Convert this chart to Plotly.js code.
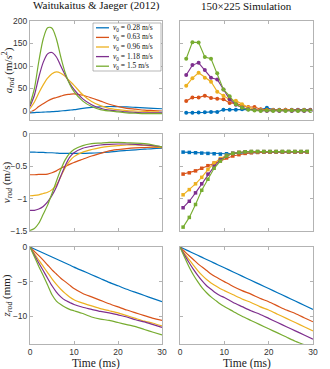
<!DOCTYPE html>
<html>
<head>
<meta charset="utf-8">
<script src="https://cdn.plot.ly/plotly-3.0.1.min.js"></script>
<style>
  html, body { margin: 0; padding: 0; background: #fff; }
  #chart { width: 330px; height: 369px; }
</style>
</head>
<body>
<div id="chart"></div>
<script>
// Series labels and colours (MATLAB default order)
const speedLabels = ["0.28", "0.63", "0.96", "1.18", "1.5"];
const lineColors = ["#0072BD", "#D95319", "#EDB120", "#7E2F8E", "#77AC30"];

// Experiment time grid (ms)
const tExp = [0, 1, 2, 3, 4, 5, 6, 7, 8, 9, 10, 12, 14, 16, 18, 20, 22, 24, 26, 28, 30];

// Experiment acceleration (m/s^2)
const accExp = [
  [-4, -3.5, -3, -2.5, -2, -1.5, -1, 0, 1, 2, 3, 6, 8, 9.5, 10, 9.5, 9, 8, 7, 6, 5],
  [-3, 2, 10, 16, 22, 27, 30, 33, 36, 37, 38, 35, 29, 22, 15, 10, 6, 4, 2, 1, 0],
  [5, 20, 40, 58, 73, 83, 87, 84, 77, 67, 57, 36, 21, 12, 6, 3, 1, 0, -1, -2, -2],
  [10, 35, 75, 108, 127, 130, 120, 100, 80, 62, 48, 27, 14, 6, 2, 0, -2, -3, -4, -4, -4],
  [15, 50, 110, 160, 185, 184, 160, 120, 85, 60, 43, 22, 10, 3, 0, -2, -4, -5, -6, -6, -6]
];

// Experiment velocity (m/s)
const velExp = [
  [-0.28, -0.28, -0.285, -0.285, -0.29, -0.29, -0.295, -0.3, -0.3, -0.3, -0.3, -0.3, -0.295, -0.29, -0.28, -0.265, -0.255, -0.245, -0.235, -0.225, -0.22],
  [-0.63, -0.63, -0.625, -0.625, -0.62, -0.6, -0.57, -0.53, -0.5, -0.47, -0.44, -0.39, -0.34, -0.3, -0.26, -0.24, -0.225, -0.215, -0.21, -0.205, -0.21],
  [-0.955, -0.95, -0.94, -0.92, -0.9, -0.86, -0.79, -0.66, -0.52, -0.42, -0.35, -0.28, -0.24, -0.21, -0.19, -0.18, -0.17, -0.17, -0.175, -0.19, -0.21],
  [-1.18, -1.18, -1.16, -1.12, -1.05, -0.95, -0.82, -0.65, -0.49, -0.36, -0.29, -0.22, -0.19, -0.17, -0.16, -0.155, -0.155, -0.16, -0.17, -0.18, -0.2],
  [-1.49, -1.46, -1.38, -1.24, -1.1, -0.92, -0.73, -0.55, -0.4, -0.3, -0.24, -0.18, -0.15, -0.14, -0.13, -0.13, -0.135, -0.14, -0.15, -0.17, -0.2]
];

// Experiment displacement (mm)
const posExp = [
  [0, -0.29, -0.58, -0.87, -1.16, -1.45, -1.74, -2.03, -2.32, -2.6, -2.9, -3.45, -4.0, -4.55, -5.1, -5.6, -6.1, -6.55, -7.0, -7.45, -7.9],
  [0, -0.63, -1.25, -1.9, -2.6, -3.3, -3.9, -4.5, -5.0, -5.5, -6.0, -6.7, -7.2, -7.7, -8.2, -8.65, -9.1, -9.5, -9.9, -10.3, -10.6],
  [0, -0.95, -1.9, -2.8, -3.7, -4.6, -5.4, -6.1, -6.7, -7.2, -7.6, -8.1, -8.5, -8.9, -9.2, -9.5, -9.9, -10.3, -10.7, -11.0, -11.4],
  [0, -1.15, -2.3, -3.4, -4.5, -5.6, -6.5, -7.2, -7.7, -8.0, -8.3, -8.7, -9.0, -9.3, -9.5, -9.8, -10.1, -10.5, -10.8, -11.2, -11.6],
  [0, -1.4, -2.8, -4.1, -5.5, -6.9, -7.8, -8.3, -8.7, -9.0, -9.2, -9.6, -10.1, -10.4, -10.6, -10.9, -11.2, -11.5, -11.9, -12.3, -12.7]
];

// Simulation sample times (ms)
const tSimAcc = [1.4, 2.8, 4.2, 5.6, 7.0, 8.4, 9.8, 11.2, 12.6, 14.0, 15.4, 16.8, 18.2, 19.6, 21.0, 22.4, 23.8, 25.2, 26.6, 28.0, 29.4];
const tSimVel = [0.7, 2.1, 3.5, 4.9, 6.3, 7.7, 9.1, 10.5, 11.9, 13.3, 14.7, 16.1, 17.5, 18.9, 20.3, 21.7, 23.1, 24.5, 25.9, 27.3, 28.7];

// Simulation acceleration (m/s^2)
const accSim = [
  [-4, -4, -3.5, -3, -2, -2, 3, 3, 3, 4, 4, 4, 3, 7, 3, 3, 3, 3, 3, 3, 3],
  [22, 30, 30, 34, 29, 27, 26, 18, 17, 12, 9, 9, 4, 3, 2, 2, 3, 2, 2, 2, 2],
  [56, 73, 85, 74, 65, 43, 34, 25, 23, 15, 8, 4, 2, 1, 2, 1, 2, 1, 1, 1, 1],
  [80, 102, 107, 91, 74, 70, 48, 26, 14, 8, 4, 2, 1, 0, 1, 0, 1, 0, 1, 0, 1],
  [116, 153, 152, 120, 116, 84, 48, 33, 15, 7, 3, 1, 0, 1, 0, 1, 0, 1, 0, 1, 0]
];

// Simulation velocity (m/s)
const velSim = [
  [-0.28, -0.285, -0.29, -0.295, -0.3, -0.305, -0.31, -0.305, -0.3, -0.295, -0.29, -0.285, -0.283, -0.28, -0.28, -0.28, -0.28, -0.28, -0.278, -0.278, -0.278],
  [-0.62, -0.6, -0.57, -0.53, -0.49, -0.45, -0.41, -0.37, -0.34, -0.32, -0.3, -0.29, -0.285, -0.28, -0.28, -0.278, -0.278, -0.278, -0.278, -0.278, -0.278],
  [-0.94, -0.86, -0.77, -0.67, -0.55, -0.45, -0.38, -0.33, -0.3, -0.285, -0.278, -0.275, -0.275, -0.275, -0.275, -0.275, -0.275, -0.275, -0.275, -0.275, -0.275],
  [-1.14, -1.04, -0.91, -0.77, -0.62, -0.5, -0.4, -0.34, -0.3, -0.285, -0.275, -0.272, -0.272, -0.272, -0.272, -0.272, -0.272, -0.272, -0.272, -0.272, -0.272],
  [-1.44, -1.29, -1.09, -0.87, -0.7, -0.53, -0.42, -0.34, -0.3, -0.285, -0.275, -0.27, -0.27, -0.27, -0.27, -0.27, -0.27, -0.27, -0.27, -0.27, -0.27]
];

// Simulation displacement (mm), on the experiment time grid
const posSim = [
  [0, -0.3, -0.6, -0.9, -1.2, -1.5, -1.8, -2.1, -2.4, -2.7, -3.0, -3.6, -4.2, -4.8, -5.4, -6.0, -6.6, -7.2, -7.8, -8.4, -9.0],
  [0, -0.62, -1.23, -1.8, -2.4, -2.9, -3.4, -3.9, -4.3, -4.65, -5.0, -5.7, -6.3, -6.8, -7.4, -7.9, -8.5, -9.1, -9.6, -10.2, -10.8],
  [0, -0.93, -1.8, -2.6, -3.4, -4.1, -4.7, -5.2, -5.6, -6.0, -6.3, -6.9, -7.5, -8.0, -8.6, -9.1, -9.7, -10.3, -10.9, -11.5, -12.1],
  [0, -1.13, -2.2, -3.2, -4.1, -4.9, -5.6, -6.1, -6.6, -7.0, -7.3, -8.0, -8.6, -9.2, -9.7, -10.3, -10.9, -11.5, -12.1, -12.7, -13.3],
  [0, -1.45, -2.8, -4.0, -5.0, -5.9, -6.6, -7.2, -7.7, -8.2, -8.6, -9.3, -10.0, -10.6, -11.2, -11.8, -12.4, -13.0, -13.6, -14.1, -14.7]
];

// Tick values per row
const accTicks = [0, 50, 100, 150, 200];
const velTicks = [0, -0.5, -1, -1.5];
const posTicks = [0, -5, -10];
const timeTicks = [0, 10, 20, 30];

const serif = "Liberation Serif, DejaVu Serif, serif";
const sans = "Liberation Sans, Arial, sans-serif";
const frameColor = "#b3b3b3";

// pixel -> paper helpers (page is 330 x 369)
const W = 330, H = 369;
const px = v => v / W;
const py = v => 1 - v / H;

// Build traces for all six panels
const traces = [];
for (let i = 0; i < speedLabels.length; i++) {
  const color = lineColors[i];
  traces.push({
    x: tExp, y: accExp[i], xaxis: "x", yaxis: "y", mode: "lines",
    line: { color: color, width: 1.2, shape: "spline", smoothing: 0.8 }
  });
  traces.push({
    x: tSimAcc, y: accSim[i], xaxis: "x2", yaxis: "y2", mode: "lines+markers",
    line: { color: color, width: 1.1 },
    marker: { symbol: "circle", size: 4, color: color }
  });
  traces.push({
    x: tExp, y: velExp[i], xaxis: "x3", yaxis: "y3", mode: "lines",
    line: { color: color, width: 1.2, shape: "spline", smoothing: 0.8 }
  });
  traces.push({
    x: tSimVel, y: velSim[i], xaxis: "x4", yaxis: "y4", mode: "lines+markers",
    line: { color: color, width: 1.1 },
    marker: { symbol: "square", size: 3.5, color: color }
  });
  traces.push({
    x: tExp, y: posExp[i], xaxis: "x5", yaxis: "y5", mode: "lines",
    line: { color: color, width: 1.2, shape: "spline", smoothing: 0.6 }
  });
  traces.push({
    x: tExp, y: posSim[i], xaxis: "x6", yaxis: "y6", mode: "lines",
    line: { color: color, width: 1.2, shape: "spline", smoothing: 0.6 }
  });
}

// Shared axis styling
function xAxis(domain, anchor, showLabels) {
  return {
    domain: domain, anchor: anchor, range: [0, 30],
    tickvals: timeTicks, ticks: "inside", ticklen: 3, tickcolor: frameColor,
    showticklabels: showLabels, showgrid: false, zeroline: false,
    showline: true, mirror: "ticks", linecolor: frameColor, linewidth: 1,
    tickfont: { family: sans, size: 8.5, color: "#333" }
  };
}

function yAxis(domain, anchor, range, ticks, titleText) {
  const ax = {
    domain: domain, anchor: anchor, range: range,
    tickvals: ticks, ticks: "inside", ticklen: 3, tickcolor: frameColor,
    showticklabels: !!titleText, showgrid: false, zeroline: false,
    showline: true, mirror: "ticks", linecolor: frameColor, linewidth: 1,
    tickfont: { family: sans, size: 8.5, color: "#333" }
  };
  if (titleText) {
    ax.title = { text: titleText, font: { family: serif, size: 11, color: "#222" }, standoff: 3 };
  }
  return ax;
}

const leftX = [px(30), px(162)];
const rightX = [px(180), px(313)];
const topY = [py(120), py(21)];
const midY = [py(231), py(134)];
const botY = [py(344), py(247)];

// Hand-built legend box inside the top-left panel
const legendBox = { x0: 93, x1: 161, y0: 23, y1: 71 };
const legendRow = (legendBox.y1 - legendBox.y0) / speedLabels.length;
const shapes = [{
  type: "rect", xref: "paper", yref: "paper",
  x0: px(legendBox.x0), x1: px(legendBox.x1), y0: py(legendBox.y1), y1: py(legendBox.y0),
  fillcolor: "#fff", line: { color: "#999", width: 0.7 }, layer: "above"
}];
const annotations = [];
for (let i = 0; i < speedLabels.length; i++) {
  const rowY = legendBox.y0 + legendRow * (i + 0.5);
  shapes.push({
    type: "line", xref: "paper", yref: "paper", layer: "above",
    x0: px(legendBox.x0 + 3), x1: px(legendBox.x0 + 16), y0: py(rowY), y1: py(rowY),
    line: { color: lineColors[i], width: 1.3 }
  });
  annotations.push({
    text: "<i>v</i><sub>0</sub> = " + speedLabels[i] + " m/s",
    xref: "paper", yref: "paper", x: px(legendBox.x0 + 18), y: py(rowY),
    xanchor: "left", yanchor: "middle", showarrow: false,
    font: { family: serif, size: 7.5, color: "#111" }
  });
}

// Panel titles and shared x titles
annotations.push({
  text: "Waitukaitus &amp; Jaeger (2012)", xref: "paper", yref: "paper",
  x: px(96), y: py(6), xanchor: "center", yanchor: "middle",
  showarrow: false, font: { family: serif, size: 11, color: "#111" }
});
annotations.push({
  text: "150×225 Simulation", xref: "paper", yref: "paper",
  x: px(246), y: py(6), xanchor: "center", yanchor: "middle",
  showarrow: false, font: { family: serif, size: 11, color: "#111" }
});
[leftX, rightX].forEach(dom => {
  annotations.push({
    text: "Time (ms)", xref: "paper", yref: "paper",
    x: (dom[0] + dom[1]) / 2, y: py(363.5), xanchor: "center", yanchor: "middle",
    showarrow: false, font: { family: serif, size: 11.5, color: "#222" }
  });
});

const layout = {
  width: W, height: H,
  margin: { l: 0, r: 0, t: 0, b: 0 },
  paper_bgcolor: "#fff", plot_bgcolor: "#fff",
  showlegend: false,
  xaxis: xAxis(leftX, "y", false),
  yaxis: yAxis(topY, "x", [-20, 200], accTicks, "<i>a</i><sub><i>rod</i></sub> (m/<i>s</i><sup>2</sup>)"),
  xaxis2: xAxis(rightX, "y2", false),
  yaxis2: yAxis(topY, "x2", [-20, 200], accTicks, null),
  xaxis3: xAxis(leftX, "y3", false),
  yaxis3: yAxis(midY, "x3", [-1.5, 0], velTicks, "<i>v</i><sub><i>rod</i></sub> (m/s)"),
  xaxis4: xAxis(rightX, "y4", false),
  yaxis4: yAxis(midY, "x4", [-1.5, 0], velTicks, null),
  xaxis5: xAxis(leftX, "y5", true),
  yaxis5: yAxis(botY, "x5", [-14, 0], posTicks, "<i>z</i><sub><i>rod</i></sub> (mm)"),
  xaxis6: xAxis(rightX, "y6", true),
  yaxis6: yAxis(botY, "x6", [-14, 0], posTicks, null),
  shapes: shapes,
  annotations: annotations
};

Plotly.newPlot("chart", traces, layout, { displayModeBar: false, staticPlot: true });
</script>
</body>
</html>
